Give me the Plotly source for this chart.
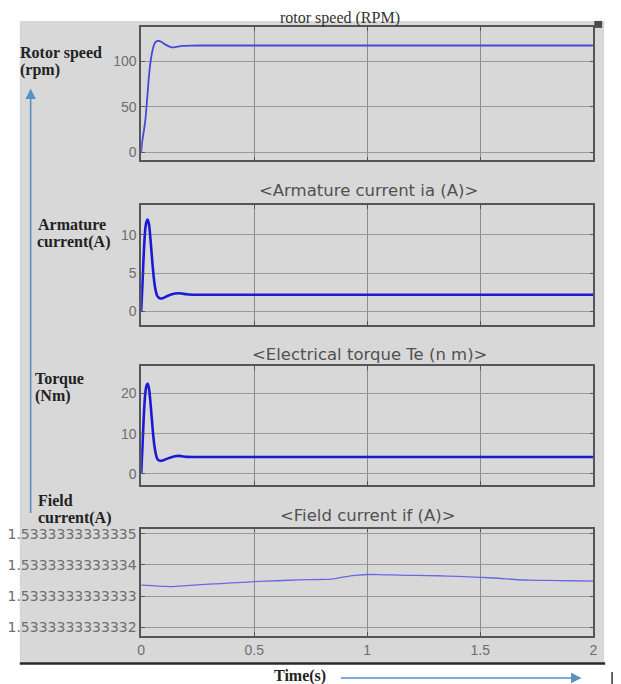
import plotly.graph_objects as go

# ---------------- data ----------------
rotor_t = [0, 0.004, 0.012, 0.019, 0.026, 0.033, 0.04, 0.048, 0.055, 0.062, 0.072, 0.082,
           0.092, 0.103, 0.114, 0.125, 0.135, 0.15, 0.165, 0.18, 0.22, 0.3, 0.5, 1.0, 1.5, 2.0]
rotor_rpm = [0, 11, 24, 37, 58, 80, 97, 110, 117, 121, 122.7, 122.3,
             121, 119.2, 117.6, 116.2, 115.4, 115.6, 116.3, 117, 117.4, 117.5, 117.5, 117.5, 117.5, 117.5]

arm_t = [0, 0.006, 0.012, 0.018, 0.024, 0.029, 0.035, 0.04, 0.045, 0.05, 0.055, 0.06, 0.065,
         0.07, 0.078, 0.085, 0.095, 0.11, 0.13, 0.15, 0.165, 0.18, 0.2, 0.23, 0.27, 2.0]
arm_ia = [0, 4, 8, 10.8, 11.8, 12.0, 11.3, 9.8, 8.0, 6.2, 4.6, 3.4, 2.6,
          2.1, 1.8, 1.7, 1.75, 1.95, 2.2, 2.35, 2.4, 2.35, 2.25, 2.2, 2.2, 2.2]

torque_t = arm_t
torque_te = [0, 7.5, 15, 20, 22, 22.4, 21, 18.3, 15, 11.6, 8.6, 6.4, 4.9,
             3.9, 3.4, 3.3, 3.35, 3.7, 4.1, 4.4, 4.5, 4.4, 4.25, 4.2, 4.2, 4.2]

field_base = 1.533333333333          # A
field_scale = 1e-13                  # offsets below are in units of 1e-13 A
field_t = [0, 0.05, 0.1, 0.135, 0.2, 0.3, 0.4, 0.5, 0.6, 0.7, 0.8, 0.84, 0.88, 0.92, 0.96,
           1.0, 1.07, 1.14, 1.22, 1.31, 1.4, 1.5, 1.58, 1.65, 1.72, 1.79, 1.9, 2.0]
field_off = [3.35, 3.33, 3.31, 3.30, 3.33, 3.38, 3.42, 3.46, 3.49, 3.52, 3.53, 3.54, 3.59, 3.64, 3.67,
             3.69, 3.68, 3.67, 3.66, 3.65, 3.63, 3.60, 3.57, 3.53, 3.51, 3.50, 3.49, 3.48]
field_ticks = [2, 3, 4, 5]
field_ticktext = ["1.5333333333332", "1.5333333333333", "1.5333333333334", "1.5333333333335"]

x_ticks = [0, 0.5, 1, 1.5, 2]
x_ticktext = ["0", "0.5", "1", "1.5", "2"]

panel_titles = ["rotor speed (RPM)", "<Armature current ia (A)>",
                "<Electrical torque Te (n m)>", "<Field current if (A)>"]
side_labels = [["Rotor speed", "(rpm)"], ["Armature", "current(A)"], ["Torque", "(Nm)"], ["Field", "current(A)"]]

# ---------------- layout helpers ----------------
W, H = 621, 684
def px(x): return x / W
def py(y): return 1 - y / H

xdom = [px(139), px(597)]
ydoms = [[py(158), py(24)], [py(323), py(203)], [py(484), py(365)], [py(636), py(528)]]
yranges = [[-9, 138], [-1.7, 13.9], [-2.7, 26.7], [1.71, 5.16]]

fig = go.Figure()
series = [(rotor_t, rotor_rpm, "#4646dc", 1.8),
          (arm_t, arm_ia, "#1a1ad6", 2.6),
          (torque_t, torque_te, "#1a1ad6", 2.6),
          (field_t, field_off, "#6868e4", 1.3)]
for i, (t, v, c, w) in enumerate(series):
    fig.add_trace(go.Scatter(x=t, y=v, mode="lines", line=dict(color=c, width=w, shape="spline", smoothing=0.6),
                             xaxis="x" if i == 0 else f"x{i+1}", yaxis="y" if i == 0 else f"y{i+1}",
                             showlegend=False, hoverinfo="skip"))

tickfont = dict(family="Liberation Sans, Arial", size=14, color="#6e6e6e")
layout = dict(width=W, height=H, margin=dict(l=0, r=0, t=0, b=0),
              paper_bgcolor="white", plot_bgcolor="white", showlegend=False)
for i in range(4):
    xn = "xaxis" if i == 0 else f"xaxis{i+1}"
    yn = "yaxis" if i == 0 else f"yaxis{i+1}"
    ya = "y" if i == 0 else f"y{i+1}"
    xa = "x" if i == 0 else f"x{i+1}"
    layout[xn] = dict(domain=xdom, anchor=ya, range=[0, 2], tickvals=x_ticks, ticktext=x_ticktext,
                      showticklabels=(i == 3), ticks="inside", ticklen=4, tickcolor="#555",
                      showgrid=True, gridcolor="#8c8c8c", gridwidth=1, zeroline=False,
                      showline=True, linecolor="#555", linewidth=1.5, mirror="allticks",
                      tickfont=tickfont, fixedrange=True)
    yd = dict(domain=ydoms[i], anchor=xa, range=yranges[i], ticks="inside", ticklen=4, tickcolor="#555",
              showgrid=True, gridcolor="#9a9a9a", gridwidth=1, zeroline=False,
              showline=True, linecolor="#555", linewidth=1.5, mirror="allticks",
              tickfont=tickfont, fixedrange=True)
    if i == 0:
        yd.update(tickvals=[0, 50, 100])
    elif i == 1:
        yd.update(tickvals=[0, 5, 10])
    elif i == 2:
        yd.update(tickvals=[0, 10, 20])
    else:
        yd.update(tickvals=field_ticks, ticktext=field_ticktext,
                  tickfont=dict(family="DejaVu Sans", size=14, color="#6e6e6e"))
    layout[yn] = yd

fig.update_layout(**layout)

shapes = [
    dict(type="rect", xref="paper", yref="paper", x0=px(16), x1=px(608), y0=py(663), y1=py(18),
         fillcolor="#d8d8d8", line=dict(width=0), layer="below"),
    dict(type="line", xref="paper", yref="paper", x0=px(16), x1=px(609), y0=py(663.5), y1=py(663.5),
         line=dict(color="#2a2a2a", width=2.5)),
    dict(type="line", xref="paper", yref="paper", x0=px(616), x1=px(616), y0=py(684), y1=py(672),
         line=dict(color="#333", width=1.5)),
    dict(type="rect", xref="paper", yref="paper", x0=px(598), x1=px(606), y0=py(25), y1=py(18),
         fillcolor="#4a4a4a", line=dict(width=0)),
]
fig.update_layout(shapes=shapes)

ann = []
# panel titles
ann.append(dict(text=panel_titles[0], x=px(340), y=py(15), xref="paper", yref="paper", showarrow=False,
                yanchor="middle", xanchor="center",
                font=dict(family="Liberation Serif, Times New Roman", size=16, color="#333")))
for txt, xx, yy in zip(panel_titles[1:], [369, 370, 369], [188, 353, 515]):
    ann.append(dict(text=txt, x=px(xx), y=py(yy), xref="paper", yref="paper", showarrow=False,
                    yanchor="middle", xanchor="center",
                    font=dict(family="DejaVu Sans", size=16.5, color="#505050")))
# side labels (one annotation per line)
side_pos = [[(17, 50), (17, 67)], [(35, 222), (34, 240)], [(32, 378), (32, 395)], [(35, 500), (35, 517)]]
for lines, poss in zip(side_labels, side_pos):
    for txt, (xx, yy) in zip(lines, poss):
        ann.append(dict(text="<b>" + txt + "</b>", x=px(xx - 3), y=py(yy), xref="paper", yref="paper",
                        xanchor="left", yanchor="middle", align="left", showarrow=False,
                        font=dict(family="Liberation Serif, Times New Roman", size=16, color="#222")))
ann.append(dict(text="<b>Time(s)</b>", x=px(300), y=py(676), xref="paper", yref="paper", showarrow=False,
                yanchor="middle", xanchor="center",
                font=dict(family="Liberation Serif, Times New Roman", size=16, color="#222")))
# blue arrows (tail offsets in pixels)
ann.append(dict(x=px(27), y=py(86), ax=0, ay=512 - 86, xref="paper", yref="paper",
                axref="pixel", ayref="pixel", text="", showarrow=True, arrowhead=2, arrowsize=1.3,
                arrowwidth=1.6, arrowcolor="#5b8fc2"))
ann.append(dict(x=px(585), y=py(678), ax=343 - 585, ay=0, xref="paper", yref="paper",
                axref="pixel", ayref="pixel", text="", showarrow=True, arrowhead=2, arrowsize=1.3,
                arrowwidth=1.6, arrowcolor="#5b8fc2"))
fig.update_layout(annotations=ann)

fig.write_html("out.html")
